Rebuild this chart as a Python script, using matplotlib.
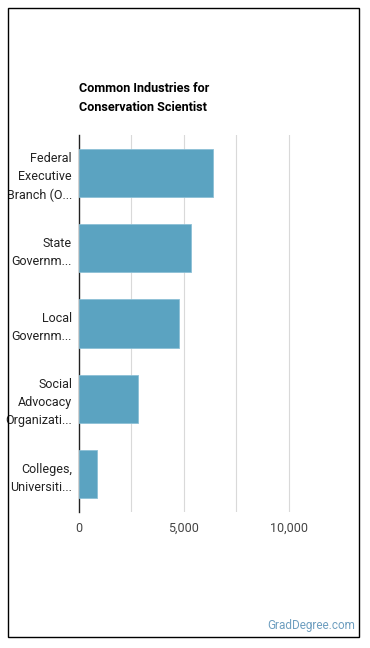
import matplotlib.pyplot as plt
from matplotlib.patches import Rectangle

plt.rcParams['font.family'] = ['Roboto', 'DejaVu Sans']

# Data
INDUSTRIAS = ["Federal\nExecutive\nBranch (O...", "State\nGovernm...", "Local\nGovernm...",
              "Social\nAdvocacy\nOrganizati...", "Colleges,\nUniversiti..."]
EMPREGOS = [6380, 5360, 4780, 2820, 870]
XTICKS = [0, 5000, 10000]
XTICK_LABELS = ["0", "5,000", "10,000"]
GRID_X = [2500, 5000, 7500, 10000]

BAR_COLOR = "#5ba3c1"

fig = plt.figure(figsize=(3.7, 6.48), dpi=100)

# moldura
fig.patches.append(Rectangle((8 / 370, 11 / 648), 351 / 370, 629 / 648, transform=fig.transFigure,
                             fill=False, edgecolor="black", linewidth=1.0))

ax = fig.add_axes([79 / 370, 136 / 648, 262 / 370, 377 / 648])
pos = list(range(len(INDUSTRIAS)))
ax.barh(pos, EMPREGOS, height=0.64, color=BAR_COLOR, edgecolor="#8cc0d6", linewidth=0.6, zorder=3)
ax.set_ylim(len(INDUSTRIAS) - 0.5, -0.5)
ax.set_xlim(0, 12500)

for g in GRID_X:
    ax.axvline(g, color="#d9d9d9", linewidth=0.8, zorder=1)

ax.set_xticks(XTICKS)
ax.set_xticklabels(XTICK_LABELS, fontsize=9, color="#444444")
ax.set_yticks(pos)
ax.set_yticklabels(INDUSTRIAS, fontsize=9, color="#222222", linespacing=1.5)
ax.tick_params(axis="both", length=0, pad=5)
ax.tick_params(axis="x", pad=7)

for s in ["top", "right", "bottom"]:
    ax.spines[s].set_visible(False)
ax.spines["left"].set_color("#222222")
ax.spines["left"].set_linewidth(1.0)

fig.text(79 / 370, 1 - 98 / 648, "Common Industries for\nConservation Scientist",
         fontsize=9.1, fontweight="bold", ha="left", va="center", linespacing=1.55)
fig.text(355 / 370, 1 - 626 / 648, "GradDegree.com", fontsize=8.5, color="#6f9fc0",
         ha="right", va="center")

plt.savefig("out.png", dpi=100)
